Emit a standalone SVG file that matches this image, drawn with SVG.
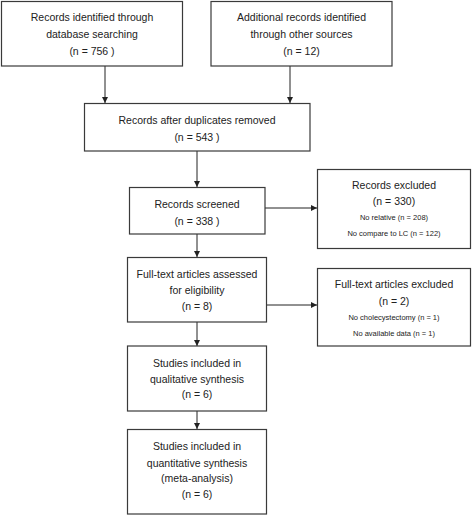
<svg xmlns="http://www.w3.org/2000/svg" width="472" height="516" viewBox="0 0 472 516">
<defs>
<marker id="ah" markerWidth="8" markerHeight="8" refX="7" refY="4" orient="auto" markerUnits="userSpaceOnUse">
<path d="M1,1 L7,4 L1,7 Z" fill="#222"/>
</marker>
<style>
.box{fill:#fff;stroke:#3a3a3a;stroke-width:1.2}
.t{font-family:"Liberation Sans",Arial,sans-serif;font-size:10.5px;fill:#222;text-anchor:middle}
.s{font-family:"Liberation Sans",Arial,sans-serif;font-size:7.5px;fill:#222;text-anchor:middle}
.c{stroke:#222;stroke-width:1;fill:none;marker-end:url(#ah)}
</style>
</defs>
<rect width="472" height="516" fill="#fff"/>
<g id="connectors">
<line class="c" x1="105" y1="66" x2="105" y2="103"/>
<line class="c" x1="290" y1="66" x2="290" y2="103"/>
<line class="c" x1="197" y1="151" x2="197" y2="187"/>
<line class="c" x1="265" y1="208" x2="317" y2="208"/>
<line class="c" x1="197" y1="234" x2="197" y2="257"/>
<line class="c" x1="267" y1="305" x2="317" y2="305"/>
<line class="c" x1="197" y1="322" x2="197" y2="346"/>
<line class="c" x1="197" y1="411" x2="197" y2="429"/>
</g>
<g id="n1">
<rect class="box" x="1.5" y="1.5" width="181" height="64.5"/>
<text class="t" x="92" y="21">Records identified through</text>
<text class="t" x="92" y="37.5">database searching</text>
<text class="t" x="92" y="55">(n = 756 )</text>
</g>
<g id="n2">
<rect class="box" x="211" y="1.5" width="181" height="64.5"/>
<text class="t" x="301.5" y="21">Additional records identified</text>
<text class="t" x="301.5" y="37.5">through other sources</text>
<text class="t" x="301.5" y="55">(n = 12)</text>
</g>
<g id="n3">
<rect class="box" x="84.5" y="103.5" width="225.5" height="47.5"/>
<text class="t" x="197" y="124">Records after duplicates removed</text>
<text class="t" x="197" y="140.5">(n = 543 )</text>
</g>
<g id="n4">
<rect class="box" x="129.5" y="187.5" width="135.5" height="46.5"/>
<text class="t" x="197" y="207.5">Records screened</text>
<text class="t" x="197" y="224.5">(n = 338 )</text>
</g>
<g id="n5">
<rect class="box" x="317.5" y="169.5" width="153" height="79"/>
<text class="t" x="394" y="188.5">Records excluded</text>
<text class="t" x="394" y="205">(n = 330)</text>
<text class="s" x="394" y="220">No relative (n = 208)</text>
<text class="s" x="394" y="236">No compare to LC (n = 122)</text>
</g>
<g id="n6">
<rect class="box" x="127.5" y="257.5" width="139" height="64.5"/>
<text class="t" x="197" y="277.5">Full-text articles assessed</text>
<text class="t" x="197" y="293.5">for eligibility</text>
<text class="t" x="197" y="310">(n = 8)</text>
</g>
<g id="n7">
<rect class="box" x="317.5" y="268.5" width="153" height="77.5"/>
<text class="t" x="394" y="288">Full-text articles excluded</text>
<text class="t" x="394" y="305">(n = 2)</text>
<text class="s" x="394" y="319.5">No cholecystectomy (n = 1)</text>
<text class="s" x="394" y="336">No available data (n = 1)</text>
</g>
<g id="n8">
<rect class="box" x="127.5" y="346" width="139" height="65"/>
<text class="t" x="197" y="366.5">Studies included in</text>
<text class="t" x="197" y="382.5">qualitative synthesis</text>
<text class="t" x="197" y="398">(n = 6)</text>
</g>
<g id="n9">
<rect class="box" x="127.5" y="429.5" width="139" height="84.5"/>
<text class="t" x="197" y="450">Studies included in</text>
<text class="t" x="197" y="466.5">quantitative synthesis</text>
<text class="t" x="197" y="482">(meta-analysis)</text>
<text class="t" x="197" y="498">(n = 6)</text>
</g>
</svg>
